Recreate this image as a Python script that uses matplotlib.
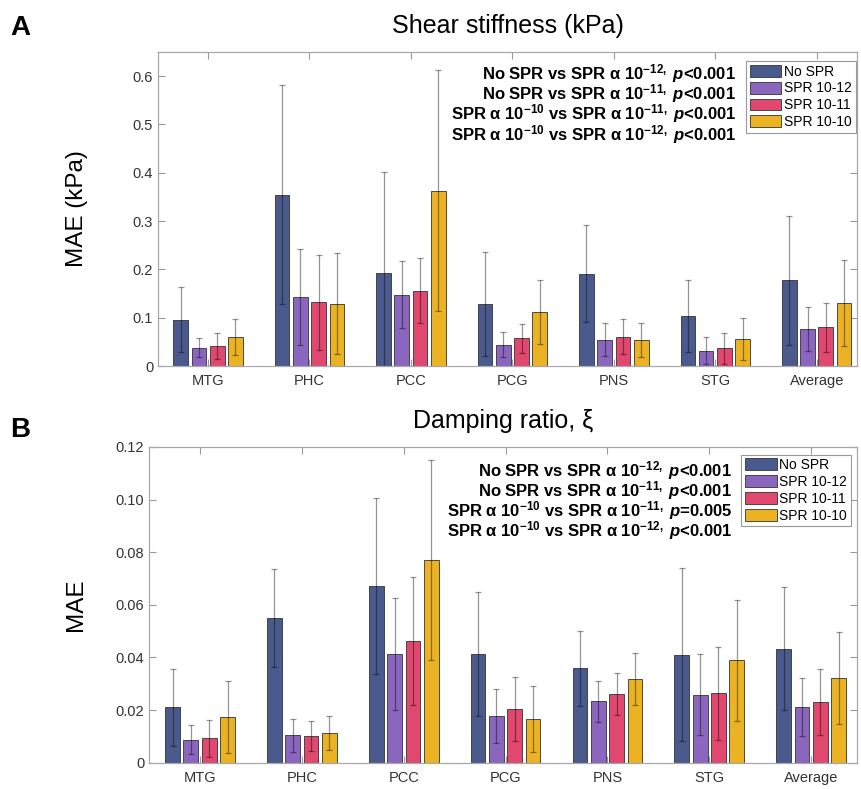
import numpy as np
import matplotlib
matplotlib.use('Agg')
import matplotlib.pyplot as plt

plt.rcParams['font.family'] = ['Liberation Sans', 'DejaVu Sans']
plt.rcParams['mathtext.fontset'] = 'custom'
plt.rcParams['mathtext.rm'] = 'Liberation Sans'
plt.rcParams['mathtext.bf'] = 'Liberation Sans:bold'
plt.rcParams['mathtext.it'] = 'Liberation Sans:italic'
plt.rcParams['mathtext.bfit'] = 'Liberation Sans:italic:bold'

regions = ['MTG', 'PHC', 'PCC', 'PCG', 'PNS', 'STG', 'Average']
series = ['No SPR', 'SPR 10-12', 'SPR 10-11', 'SPR 10-10']
colors = ['#4b5a8c', '#8a66be', '#e0486f', '#ebb323']

# shear stiffness MAE (kPa), mean and sd per region
mu_nospr = [0.096, 0.355, 0.192, 0.129, 0.191, 0.103, 0.177]
mu_spr12 = [0.038, 0.143, 0.148, 0.044, 0.054, 0.032, 0.077]
mu_spr11 = [0.041, 0.132, 0.156, 0.057, 0.061, 0.037, 0.080]
mu_spr10 = [0.060, 0.129, 0.363, 0.112, 0.054, 0.056, 0.130]
sd_nospr = [0.067, 0.227, 0.210, 0.108, 0.100, 0.075, 0.134]
sd_spr12 = [0.020, 0.099, 0.070, 0.026, 0.034, 0.028, 0.046]
sd_spr11 = [0.027, 0.098, 0.067, 0.030, 0.037, 0.032, 0.050]
sd_spr10 = [0.038, 0.105, 0.250, 0.066, 0.035, 0.044, 0.089]

# damping ratio MAE
xi_nospr = [0.0210, 0.0550, 0.0672, 0.0412, 0.0359, 0.0410, 0.0434]
xi_spr12 = [0.0087, 0.0104, 0.0412, 0.0178, 0.0233, 0.0259, 0.0213]
xi_spr11 = [0.0093, 0.0101, 0.0463, 0.0205, 0.0262, 0.0264, 0.0231]
xi_spr10 = [0.0173, 0.0113, 0.0771, 0.0166, 0.0318, 0.0389, 0.0321]
xisd_nospr = [0.0148, 0.0185, 0.0335, 0.0235, 0.0143, 0.0329, 0.0232]
xisd_spr12 = [0.0055, 0.0062, 0.0213, 0.0104, 0.0078, 0.0153, 0.0110]
xisd_spr11 = [0.0071, 0.0057, 0.0242, 0.0122, 0.0080, 0.0176, 0.0125]
xisd_spr10 = [0.0138, 0.0063, 0.0380, 0.0124, 0.0098, 0.0231, 0.0175]

stats_a = [r'No SPR vs SPR α 10$^{\mathbf{-12,}}$ $\mathbfit{p}$<0.001',
           r'No SPR vs SPR α 10$^{\mathbf{-11,}}$ $\mathbfit{p}$<0.001',
           r'SPR α 10$^{\mathbf{-10}}$ vs SPR α 10$^{\mathbf{-11,}}$ $\mathbfit{p}$<0.001',
           r'SPR α 10$^{\mathbf{-10}}$ vs SPR α 10$^{\mathbf{-12,}}$ $\mathbfit{p}$<0.001']
stats_b = [r'No SPR vs SPR α 10$^{\mathbf{-12,}}$ $\mathbfit{p}$<0.001',
           r'No SPR vs SPR α 10$^{\mathbf{-11,}}$ $\mathbfit{p}$<0.001',
           r'SPR α 10$^{\mathbf{-10}}$ vs SPR α 10$^{\mathbf{-11,}}$ $\mathbfit{p}$=0.005',
           r'SPR α 10$^{\mathbf{-10}}$ vs SPR α 10$^{\mathbf{-12,}}$ $\mathbfit{p}$<0.001']


def grouped_bars(ax, means, sds, xlim, ylim, yticks, yfmt):
    x = np.arange(1, len(regions) + 1)
    for i in range(len(series)):
        xs = x + (i - 1.5) * 0.18
        ax.bar(xs, means[i], width=0.145, color=colors[i], edgecolor='#333333',
               linewidth=0.6, label=series[i], zorder=2)
        ax.errorbar(xs, means[i], yerr=sds[i], fmt='none', ecolor='black',
                    alpha=0.42, elinewidth=0.9, capsize=2.5, capthick=0.9, zorder=3)
    ax.set_xlim(xlim)
    ax.set_ylim(ylim)
    ax.set_xticks(x)
    ax.set_xticklabels(regions)
    ax.set_yticks(yticks)
    ax.set_yticklabels([yfmt(v) for v in yticks])
    ax.tick_params(direction='in', length=5, width=0.8, color='#999999',
                   labelsize=10.5, labelcolor='#333333', top=True, right=True)
    ax.tick_params(axis='x', pad=6)
    for s in ax.spines.values():
        s.set_color('#a8a8a8')
        s.set_linewidth(0.9)


fig = plt.figure(figsize=(8.61, 7.89), dpi=100)

# panel A
ax1 = fig.add_axes([158 / 861, 1 - 366 / 789, 699 / 861, 314 / 789])
grouped_bars(ax1, [mu_nospr, mu_spr12, mu_spr11, mu_spr10],
             [sd_nospr, sd_spr12, sd_spr11, sd_spr10],
             (0.507, 7.397), (0, 0.65), [0, 0.1, 0.2, 0.3, 0.4, 0.5, 0.6],
             lambda v: '0' if v == 0 else '%g' % v)
ax1.set_title('Shear stiffness (kPa)', fontsize=18, pad=14)
ax1.set_ylabel('MAE (kPa)', fontsize=17.5)
ax1.yaxis.set_label_coords(-0.1, 0.5)
for k, s in enumerate(stats_a):
    ax1.text(736 / 861, 1 - (73.3 + k * 20.3) / 789, s, transform=fig.transFigure,
             ha='right', va='center', fontsize=12, fontweight='bold')
leg = ax1.legend(loc='upper right', bbox_to_anchor=(1.0, 0.975), fontsize=10,
                 handlelength=2.3, handleheight=0.95, handletextpad=0.2,
                 labelspacing=0.2, borderpad=0.25, borderaxespad=0.1,
                 fancybox=False, framealpha=1)
leg.get_frame().set_edgecolor('#999999')
leg.get_frame().set_linewidth(0.8)

# panel B
ax2 = fig.add_axes([149 / 861, 1 - 762.7 / 789, 708 / 861, 315.7 / 789])
grouped_bars(ax2, [xi_nospr, xi_spr12, xi_spr11, xi_spr10],
             [xisd_nospr, xisd_spr12, xisd_spr11, xisd_spr10],
             (0.499, 7.45), (0, 0.12), [0, 0.02, 0.04, 0.06, 0.08, 0.10, 0.12],
             lambda v: '0' if v == 0 else '%.2f' % v)
ax2.set_title('Damping ratio, ξ', fontsize=18, pad=14)
ax2.set_ylabel('MAE', fontsize=17.5)
ax2.yaxis.set_label_coords(-0.088, 0.5)
for k, s in enumerate(stats_b):
    ax2.text(732 / 861, 1 - (470.7 + k * 20.1) / 789, s, transform=fig.transFigure,
             ha='right', va='center', fontsize=12, fontweight='bold')
leg = ax2.legend(loc='upper right', bbox_to_anchor=(0.993, 0.98), fontsize=10,
                 handlelength=2.3, handleheight=0.95, handletextpad=0.2,
                 labelspacing=0.2, borderpad=0.25, borderaxespad=0.1,
                 fancybox=False, framealpha=1)
leg.get_frame().set_edgecolor('#999999')
leg.get_frame().set_linewidth(0.8)

fig.text(10 / 861, 1 - 35 / 789, 'A', fontsize=20, fontweight='bold', va='baseline')
fig.text(10 / 861, 1 - 437 / 789, 'B', fontsize=20, fontweight='bold', va='baseline')

fig.savefig('out.png', dpi=100)
